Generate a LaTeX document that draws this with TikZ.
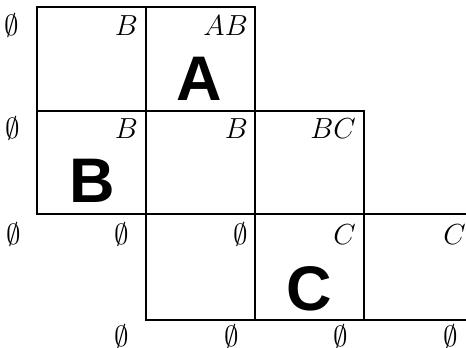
\RequirePackage{fix-cm}
\documentclass[tikz,border=0pt]{standalone}
\usepackage{fontspec}
\newfontfamily\bigsans{Liberation Sans}
\tikzset{
  grid/.style={line width=2.8pt, line cap=rect, line join=miter},
  lab/.style={anchor=base east, inner sep=0pt, font=\fontsize{29}{30}\selectfont},
  big/.style={anchor=base, inner sep=0pt, font=\bigsans\bfseries\fontsize{63}{64}\selectfont}
}
\begin{document}
\begin{tikzpicture}[x=1pt,y=-1pt]
\useasboundingbox (0,0) rectangle (466,348);
% grid
\draw[grid] (37,7) rectangle (255,111);
\draw[grid] (37,111) rectangle (364,214);
\draw[grid] (146,7) -- (146,320);
\draw[grid] (255,111) -- (255,320);
\draw[grid] (364,214) -- (364,320);
\draw[grid] (146,214) -- (470,214);
\draw[grid] (146,320) -- (470,320);
% corner labels
\node[lab] (l0a) at (19,35) {$\emptyset$};
\node[lab] (l1a) at (138,35) {$B$};
\node[lab] (l2a) at (248,35) {$AB$};
\node[lab] (l0b) at (20,138) {$\emptyset$};
\node[lab] (l1b) at (138,138) {$B$};
\node[lab] (l2b) at (248,138) {$B$};
\node[lab] (l3b) at (356,138) {$BC$};
\node[lab] (l0c) at (21,244) {$\emptyset$};
\node[lab] (l1c) at (129,244) {$\emptyset$};
\node[lab] (l2c) at (248,244) {$\emptyset$};
\node[lab] (l3c) at (356,244) {$C$};
\node[lab] (l4c) at (466,244) {$C$};
\node[lab] (l1d) at (129,346) {$\emptyset$};
\node[lab] (l2d) at (239,346) {$\emptyset$};
\node[lab] (l3d) at (348,346) {$\emptyset$};
\node[lab] (l4d) at (458,346) {$\emptyset$};
% big letters
\node[big] (A) at (199,100) {A};
\node[big] (B) at (92,202) {B};
\node[big] (C) at (309,310) {C};
\end{tikzpicture}
\end{document}
